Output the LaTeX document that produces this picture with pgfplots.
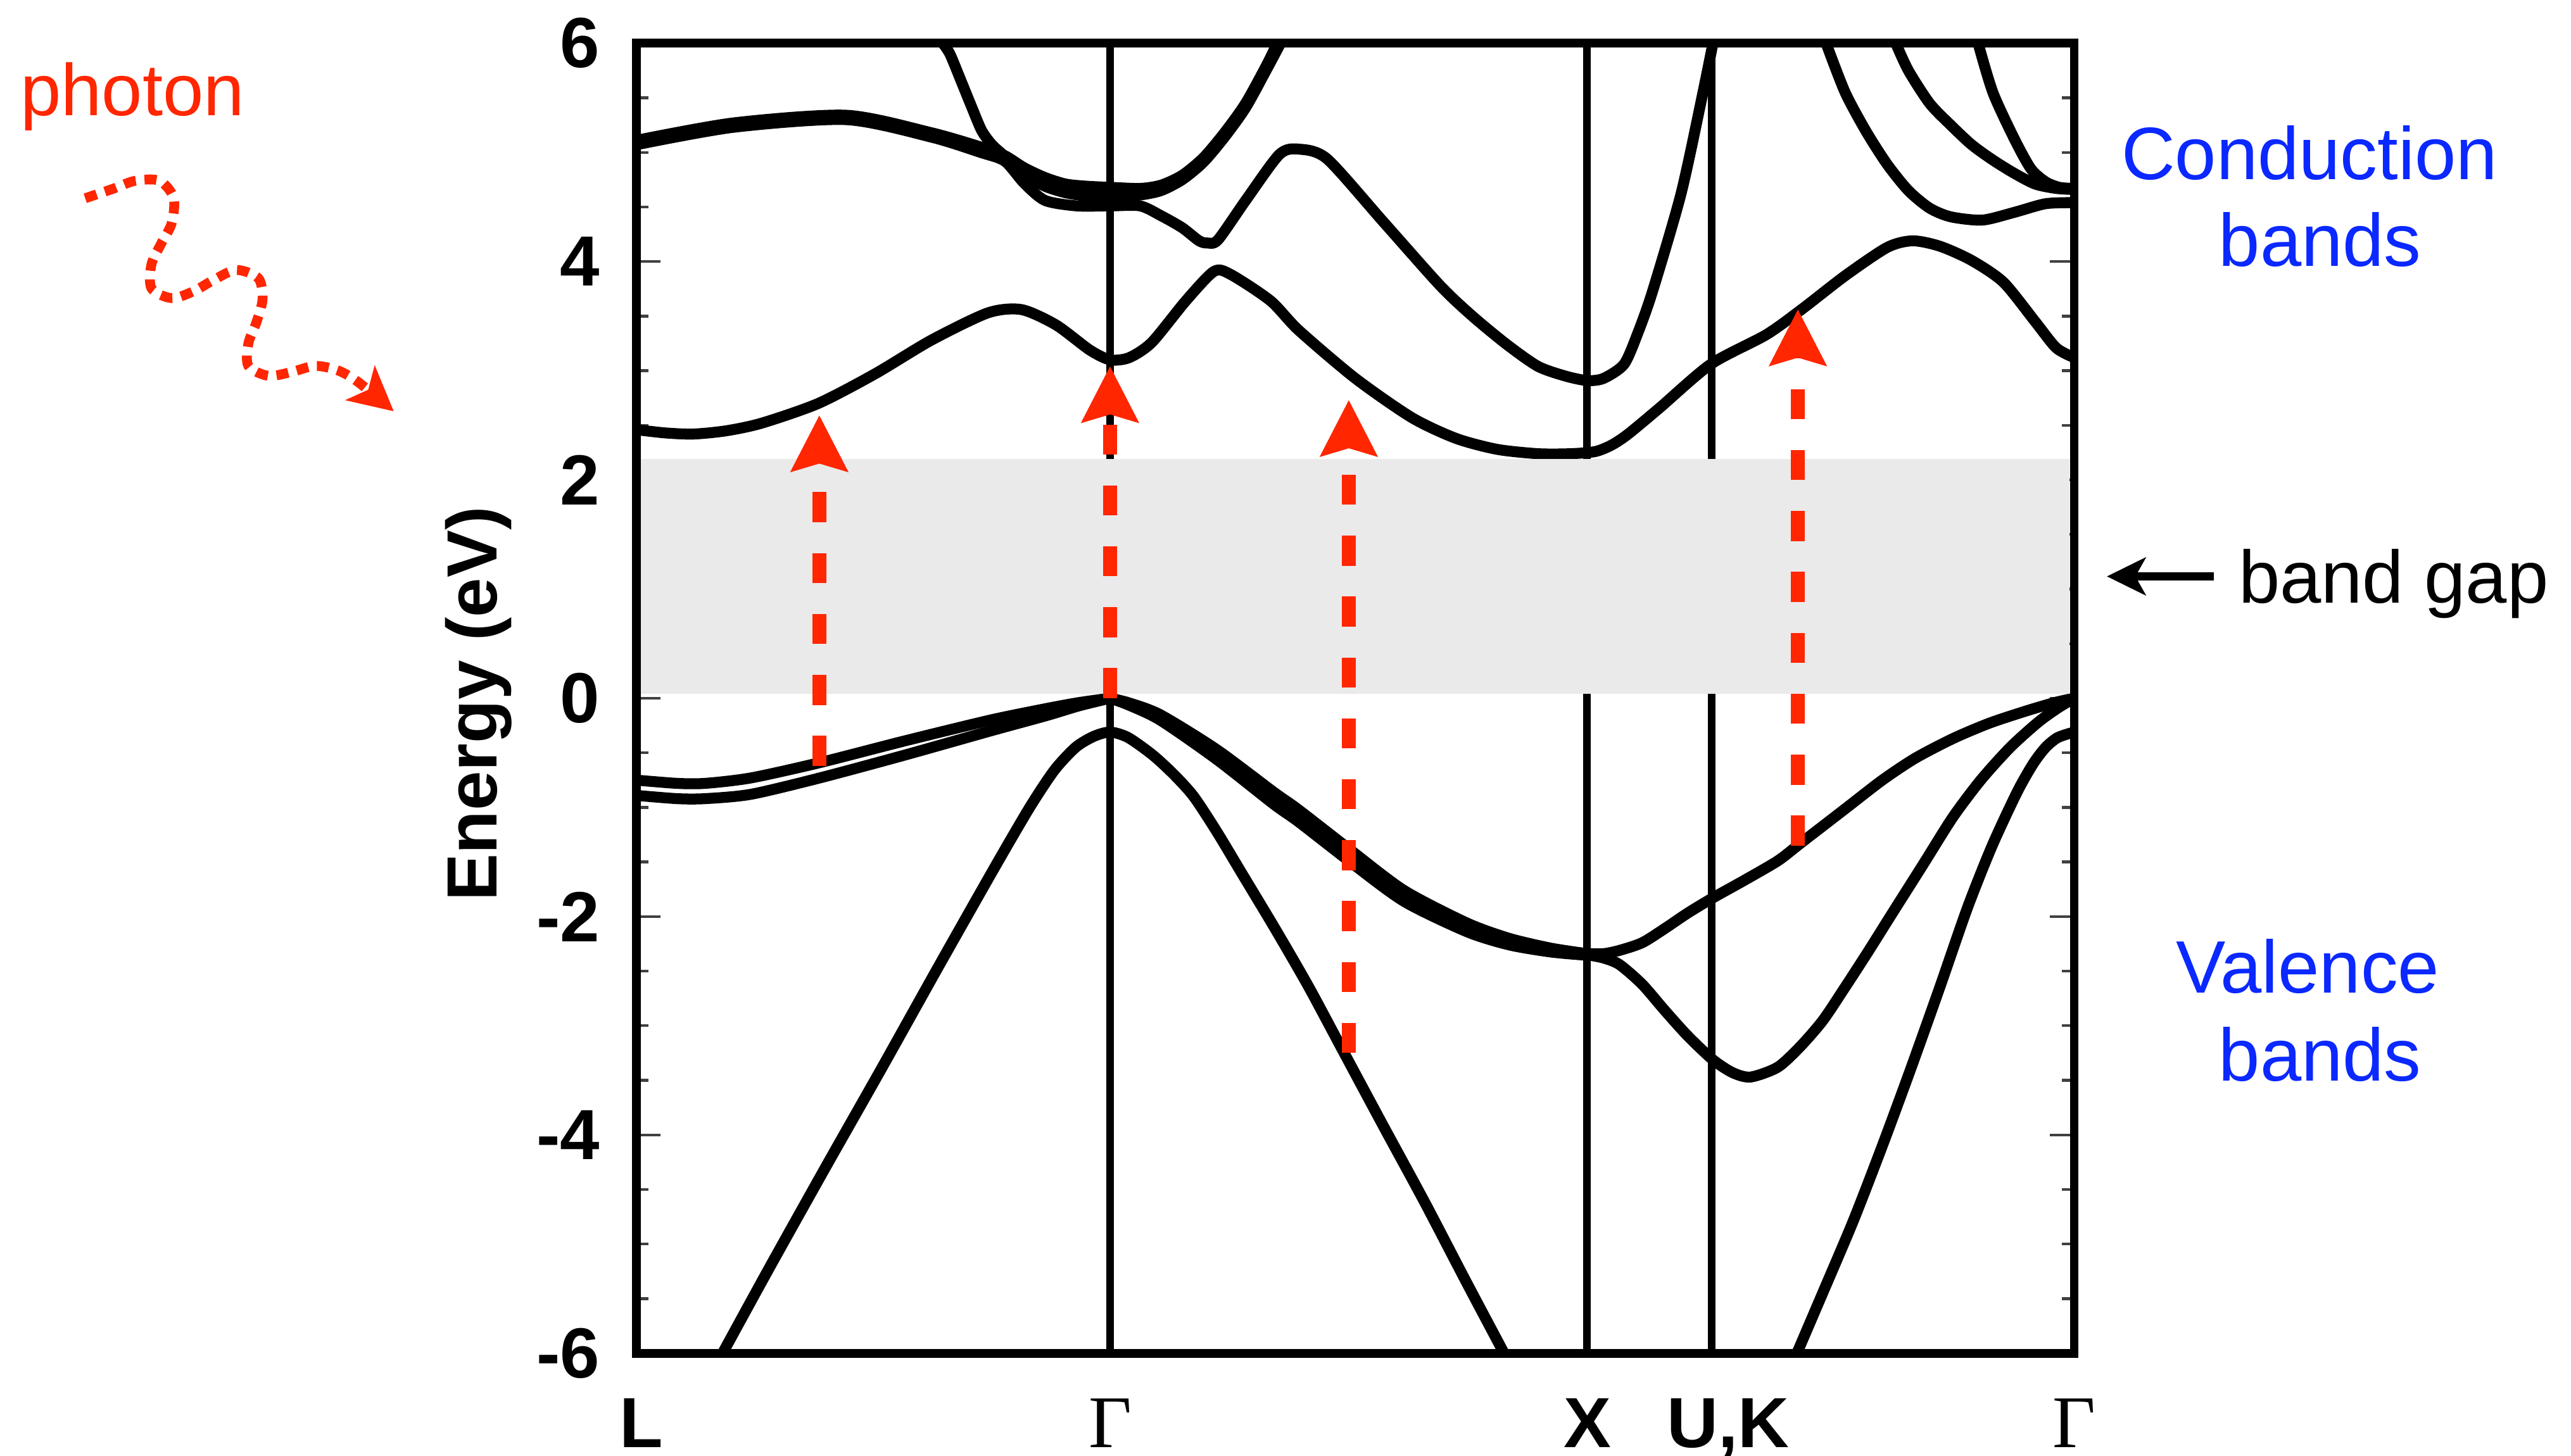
\documentclass[border=0pt]{standalone}
\usepackage{fontspec}
\setmainfont{Liberation Sans}
\newfontfamily\serifgamma{Liberation Serif}
\usepackage{pgfplots}
\pgfplotsset{compat=1.18}
\usetikzlibrary{arrows.meta}
\definecolor{photonred}{RGB}{255,38,0}
\definecolor{bandblue}{RGB}{10,40,255}
\definecolor{gapgray}{RGB}{234,234,234}
\tikzset{
  band/.style={black, line width=2.0pt, smooth, tension=0.45, line join=round},
  vline/.style={black, line width=1.4pt},
  redarrow/.style={photonred, line width=2.6pt, dash pattern=on 5.5pt off 5.65pt,
     -{Stealth[length=10.4pt,width=10.7pt,inset=1.6pt,line width=0pt]}},
}
\begin{document}
\begin{tikzpicture}
\begin{axis}[
  scale only axis, width=263.1pt, height=239.76pt,
  xmin=0, xmax=877, ymin=-6, ymax=6,
  clip=false,
  axis line style={line width=1.6pt, black},
  tick align=inside,
  xtick={3,289,580,666,877},
  xticklabels={\textbf{L},{\mdseries\serifgamma\fontsize{13.6}{13.6}\selectfont Γ},\textbf{X},{\textbf{U,K}},{\mdseries\serifgamma\fontsize{13.6}{13.6}\selectfont Γ}},
  xtick style={draw=none},
  xticklabel style={anchor=base, inner sep=0pt, yshift=-17.25pt, font=\bfseries\fontsize{13}{13}\selectfont},
  ytick={-6,-4,-2,0,2,4,6},
  yticklabels={-6,-4,-2,0,2,4,6},
  minor y tick num=3,
  ytick pos=both,
  yticklabel pos=left,
  ytick style={line width=0.5pt, black!75},
  major tick length=4.4pt,
  minor tick length=2.3pt,
  yticklabel style={font=\bfseries\fontsize{13}{13}\selectfont, inner sep=0pt, xshift=-6.5pt},
]
% symmetry lines
\addplot[vline] coordinates {(289,-6) (289,6)};
\addplot[vline] coordinates {(580,-6) (580,6)};
\addplot[vline] coordinates {(656,-6) (656,6)};

% ---------------- valence bands ----------------
\addplot[band] coordinates {(0,-0.75) (25,-0.78) (42,-0.78) (70,-0.73) (112,-0.59) (164,-0.39) (216,-0.2) (250,-0.095) (270,-0.04) (289,0)};
\addplot[band] coordinates {(0,-0.89) (25,-0.92) (42,-0.92) (70,-0.88) (112,-0.73) (164,-0.52) (216,-0.3) (250,-0.16) (270,-0.07) (289,0)};
% split-off like band L -> Gamma -> X
\addplot[band] coordinates {(52.7,-6) (80.4,-5.24) (115,-4.31) (149.7,-3.39) (184.3,-2.46) (219,-1.54) (240,-1.0) (255,-0.66) (268,-0.45) (279,-0.35) (289,-0.31) (300,-0.36) (315,-0.52) (328,-0.7) (340,-0.9) (354,-1.22) (370,-1.62) (390,-2.12) (410,-2.64) (430,-3.2) (455,-3.9) (481,-4.62) (506,-5.34) (529.3,-6)};
% heavy (double) band Gamma -> X
\addplot[band] coordinates {(289,0) (300,-0.04) (319.5,-0.15) (354,-0.47) (388.8,-0.86) (403.8,-1.02) (434.7,-1.38) (468.2,-1.76) (506.8,-2.06) (532.5,-2.2) (558,-2.29) (580,-2.34)};
\addplot[band] coordinates {(289,0) (300,-0.06) (319.5,-0.2) (354,-0.56) (388.8,-0.97) (403.8,-1.13) (434.7,-1.49) (468.2,-1.86) (506.8,-2.14) (532.5,-2.26) (558,-2.325) (580,-2.355)};
% X -> U,K -> Gamma
\addplot[band] coordinates {(580,-2.34) (590,-2.34) (599.7,-2.31) (613.5,-2.24) (627.3,-2.11) (641.1,-1.97) (656.5,-1.83) (675.6,-1.67) (696.2,-1.49) (710,-1.33) (737.6,-1.01) (760,-0.75) (780,-0.55) (803,-0.37) (825,-0.23) (847,-0.12) (865,-0.04) (877,0)};
\addplot[band] coordinates {(580,-2.35) (590,-2.38) (599.7,-2.44) (613.5,-2.62) (627.3,-2.86) (641.1,-3.09) (656.5,-3.31) (668.7,-3.43) (679.7,-3.47) (696.2,-3.38) (710,-3.19) (723.8,-2.95) (737.6,-2.64) (751.4,-2.32) (765.2,-1.99) (785,-1.52) (803,-1.09) (820,-0.75) (838,-0.45) (855,-0.22) (867,-0.09) (877,0)};
\addplot[band] coordinates {(707.9,-6) (725,-5.4) (742.5,-4.78) (760,-4.1) (777.2,-3.40) (795,-2.65) (811.9,-1.92) (827,-1.35) (842.2,-0.86) (852,-0.6) (859.6,-0.45) (867,-0.36) (877,-0.31)};

% ---------------- conduction bands ----------------
\addplot[band] coordinates {(0,2.46) (18,2.43) (35,2.42) (55,2.45) (76.6,2.52) (111,2.70) (145.5,2.97) (180,3.28) (214.5,3.53) (235,3.56) (256,3.42) (276.6,3.19) (289,3.10) (300.7,3.12) (314.5,3.26) (335.2,3.64) (352.4,3.91) (362.8,3.88) (386.9,3.64) (404.1,3.37) (438.6,2.93) (473.1,2.57) (500,2.38) (525,2.28) (550,2.24) (570,2.24) (585,2.26) (595,2.32) (605,2.42) (624.2,2.66) (655.4,3.06) (689.2,3.33) (711.5,3.57) (737.3,3.87) (763,4.13) (778.5,4.19) (795.2,4.14) (814.5,4.01) (833.9,3.81) (853.2,3.45) (866,3.21) (877,3.12)};
\addplot[band] coordinates {(0,5.07) (59.3,5.23) (128.3,5.30) (180,5.14) (210,5.0) (224.8,4.92) (236.5,4.72) (249.3,4.56) (268.6,4.51) (289,4.51) (307.3,4.51) (320.1,4.42) (333,4.31) (343.3,4.19) (348.5,4.17) (354.9,4.20) (371.7,4.56) (392.2,4.98) (404,5.03) (421.4,4.94) (455.9,4.36) (490.3,3.78) (510,3.5) (531,3.24) (550,3.04) (567,2.95) (580,2.91) (590,2.93) (602.5,3.06) (611,3.35) (619.9,3.73) (637.2,4.62) (650.2,5.52) (656.7,6.0)};
\addplot[band] coordinates {(0,5.11) (59.3,5.27) (128.3,5.34) (180,5.18) (210,5.05) (224.8,4.97) (236.5,4.86) (249.3,4.77) (262,4.71) (275,4.69) (289,4.68) (307.3,4.67) (320.1,4.70) (333,4.79) (345.9,4.95) (358.8,5.18) (371.7,5.45) (384.5,5.80) (391,6.0)};
\addplot[band] coordinates {(187,6.0) (191.4,5.9) (198,5.66) (204.5,5.42) (210.7,5.2) (217,5.07) (223.6,4.98) (236.5,4.8) (249.3,4.69) (262,4.63) (275,4.6) (289,4.59) (307.3,4.61) (320.1,4.65) (333,4.75) (345.9,4.91) (358.8,5.14) (371.7,5.41) (384.5,5.76) (393,6.0)};
\addplot[band] coordinates {(725.7,6.0) (737.3,5.55) (750.2,5.19) (763,4.89) (775.9,4.65) (788.8,4.49) (801.7,4.41) (821,4.38) (840.3,4.45) (859.6,4.53) (877,4.54)};
\addplot[band] coordinates {(768.2,6.0) (775.9,5.75) (788.8,5.45) (801.7,5.25) (814.5,5.07) (827.4,4.93) (840.3,4.81) (853.2,4.71) (866,4.67) (877,4.66)};
\addplot[band] coordinates {(818.4,6.0) (827.4,5.55) (840.3,5.13) (850.6,4.85) (859.6,4.73) (868,4.68) (877,4.67)};

% band gap shading
\addplot[draw=none, fill=gapgray] coordinates {(2.7,0.04) (874.3,0.04) (874.3,2.19) (2.7,2.19)};

% optical transitions
\addplot[redarrow] coordinates {(111.7,-0.62) (111.7,2.59)};
\addplot[redarrow] coordinates {(289,0.0) (289,3.04)};
\addplot[redarrow] coordinates {(434.6,-3.25) (434.6,2.73)};
\addplot[redarrow] coordinates {(708.5,-1.35) (708.5,3.56)};

% photon
\addplot[photonred, line width=1.8pt, dash pattern=on 2.2pt off 1.6pt, smooth, tension=0.5,
  -{Stealth[length=8.1pt,width=8.4pt,inset=2pt,line width=0pt]}] coordinates {
  (-336,4.58) (-319,4.667) (-305.5,4.740) (-290.7,4.740) (-282.1,4.584) (-283.3,4.351) (-289.5,4.170) (-295.6,3.976) (-295.6,3.755) (-283.3,3.665) (-269.8,3.729) (-257.5,3.833) (-243.9,3.923) (-230.4,3.847) (-227.9,3.652) (-231.6,3.444) (-236.5,3.251) (-236.5,3.044) (-224.2,2.953) (-209.4,2.992) (-195.9,3.044) (-182.3,3.005) (-170,2.901) (-147.9,2.629)};

\node[anchor=base west, inner sep=0pt, text=photonred, font=\fontsize{13.4}{13.4}\selectfont] at (axis cs:-376.2,5.335) {photon};
\node[rotate=90, anchor=base, inner sep=0pt, font=\bfseries\fontsize{13}{13}\selectfont] at (axis cs:-85.1,-0.053) {Energy (eV)};
\node[anchor=base, inner sep=0pt, text=bandblue, font=\fontsize{13.6}{13.6}\selectfont] at (axis cs:1020.5,4.753) {Conduction};
\node[anchor=base, inner sep=0pt, text=bandblue, font=\fontsize{13.6}{13.6}\selectfont] at (axis cs:1027,3.955) {bands};
\node[anchor=base, inner sep=0pt, text=bandblue, font=\fontsize{13.6}{13.6}\selectfont] at (axis cs:1019.5,-2.697) {Valence};
\node[anchor=base, inner sep=0pt, text=bandblue, font=\fontsize{13.6}{13.6}\selectfont] at (axis cs:1027,-3.505) {bands};
\node[anchor=base west, inner sep=0pt, font=\fontsize{13.6}{13.6}\selectfont] at (axis cs:976.6,0.871) {band gap};
\draw[black, line width=1.6pt, -{Stealth[length=7.2pt,width=7.1pt,inset=2pt,line width=0pt]}] (axis cs:962,1.116) -- (axis cs:897,1.116);

\coordinate (bbsw) at (axis cs:-388,-6.937);
\coordinate (bbne) at (axis cs:1180,6.396);
\end{axis}
\pgfresetboundingbox
\path[use as bounding box] (bbsw) rectangle (bbne);
\end{tikzpicture}
\end{document}
